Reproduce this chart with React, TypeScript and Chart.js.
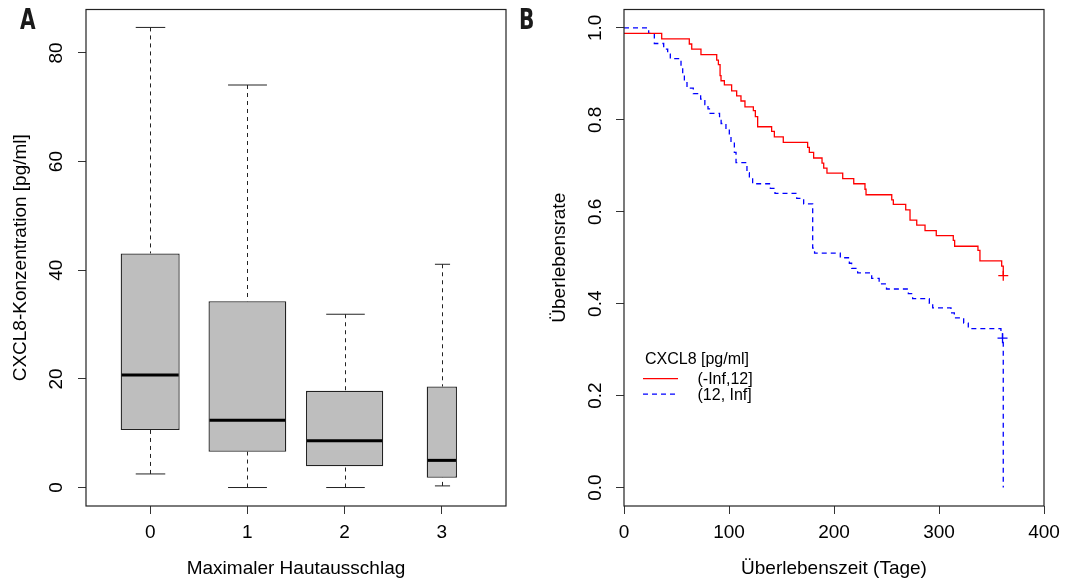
import React, { useEffect, useRef } from 'react';
import { Chart, registerables } from 'chart.js';

Chart.register(...registerables);

const FONT = "'Liberation Sans', Arial, 'DejaVu Sans', sans-serif";
const LETTER_FONT = "'Liberation Sans Narrow', 'DejaVu Sans Condensed', 'Liberation Sans', sans-serif";

// ---------- Panel A: CXCL8 by maximal skin rash ----------
const skinCategories = ['0', '1', '2', '3'];
const groupSizes = [38, 66, 65, 10];
const whiskerLow = [2.5, 0, 0, 0.3];
const quartile1 = [10.6, 6.6, 3.9, 1.8];
const medians = [20.7, 12.4, 8.6, 5.0];
const quartile3 = [43.1, 34.3, 17.8, 18.6];
const whiskerHigh = [84.7, 74.1, 31.9, 41.1];

// ---------- Panel B: Kaplan-Meier curves ----------
const groupLabels = ['(-Inf,12]', '(12, Inf]'];
const legendTitle = 'CXCL8 [pg/ml]';

const redTimes = [0, 35.9, 62.2, 64.5, 73.3, 88.3, 89.9, 91.5, 92.4, 95.6, 102.5, 107.3, 111.4, 115.2, 123.2, 125.1, 127.3, 140.6, 143.2, 151.7, 174.9, 176.5, 180.6, 188.6, 190.2, 193.3, 208.3, 218.8, 229.5, 230.5, 255.0, 256.5, 268.3, 272.4, 278.8, 286.7, 297.4, 313.6, 314.9, 337.1, 339.0, 359.7, 361.2];
const redSurv = [0.988, 0.976, 0.965, 0.954, 0.942, 0.930, 0.920, 0.896, 0.885, 0.876, 0.863, 0.852, 0.841, 0.828, 0.820, 0.807, 0.785, 0.775, 0.763, 0.751, 0.740, 0.729, 0.717, 0.706, 0.695, 0.684, 0.672, 0.661, 0.649, 0.637, 0.626, 0.616, 0.604, 0.582, 0.571, 0.559, 0.548, 0.538, 0.525, 0.516, 0.493, 0.482, 0.461];

const blueTimes = [0, 23.5, 28.9, 37.8, 41.6, 44.1, 54.3, 55.9, 57.5, 60.0, 66.0, 73.0, 77.0, 80.0, 82.0, 91.0, 92.5, 97.1, 100.3, 101.9, 105.1, 106.7, 117.1, 119.4, 122.5, 139.4, 143.8, 164.5, 171.1, 179.7, 181.5, 206.0, 214.6, 216.8, 222.5, 235.9, 243.0, 250.0, 270.8, 274.9, 290.8, 294.0, 311.4, 314.6, 323.5, 327.9, 359.0, 360.5, 361.2];
const blueSurv = [1.0, 0.988, 0.966, 0.954, 0.943, 0.933, 0.916, 0.899, 0.881, 0.869, 0.857, 0.845, 0.833, 0.824, 0.814, 0.803, 0.792, 0.780, 0.765, 0.751, 0.729, 0.707, 0.685, 0.673, 0.661, 0.651, 0.640, 0.629, 0.617, 0.521, 0.510, 0.500, 0.488, 0.477, 0.467, 0.455, 0.443, 0.432, 0.422, 0.411, 0.401, 0.391, 0.380, 0.369, 0.358, 0.346, 0.336, 0.325, 0.0];

const redCensorTimes = [361.2];
const redCensorSurv = [0.461];
const blueCensorTimes = [360.5];
const blueCensorSurv = [0.325];

// ---------- helpers ----------
const maxGroup = Math.max(...groupSizes);
const boxWidths = groupSizes.map((n) => 0.8 * Math.sqrt(n / maxGroup));

const stepPoints = (times: number[], surv: number[]) => {
  const pts = [{ x: times[0], y: surv[0] }];
  for (let i = 1; i < times.length; i++) {
    pts.push({ x: times[i], y: surv[i - 1] });
    pts.push({ x: times[i], y: surv[i] });
  }
  return pts;
};

const framePlugin = {
  id: 'rFrame',
  afterDraw(chart: any) {
    const { ctx, chartArea: a } = chart;
    ctx.save();
    ctx.strokeStyle = '#222';
    ctx.lineWidth = 1.2;
    ctx.strokeRect(a.left, a.top, a.right - a.left, a.bottom - a.top);
    ctx.restore();
  },
};

const boxPartsPlugin = {
  id: 'boxParts',
  beforeDatasetsDraw(chart: any) {
    const { ctx } = chart;
    const x = chart.scales.x;
    const y = chart.scales.y;
    ctx.save();
    ctx.strokeStyle = '#222';
    ctx.lineWidth = 1;
    skinCategories.forEach((_, i) => {
      const cx = Math.round(x.getPixelForValue(i)) + 0.5;
      const capHalf = (x.getPixelForValue(i + boxWidths[i] / 2) - x.getPixelForValue(i)) / 2;
      const yHi = y.getPixelForValue(whiskerHigh[i]);
      const yLo = y.getPixelForValue(whiskerLow[i]);
      ctx.setLineDash([4, 4]);
      ctx.beginPath();
      ctx.moveTo(cx, yHi);
      ctx.lineTo(cx, y.getPixelForValue(quartile3[i]));
      ctx.moveTo(cx, yLo);
      ctx.lineTo(cx, y.getPixelForValue(quartile1[i]));
      ctx.stroke();
      ctx.setLineDash([]);
      ctx.beginPath();
      ctx.moveTo(cx - capHalf, yHi);
      ctx.lineTo(cx + capHalf, yHi);
      ctx.moveTo(cx - capHalf, yLo);
      ctx.lineTo(cx + capHalf, yLo);
      ctx.stroke();
    });
    ctx.restore();
  },
  afterDatasetsDraw(chart: any) {
    const { ctx } = chart;
    const x = chart.scales.x;
    const y = chart.scales.y;
    ctx.save();
    ctx.strokeStyle = '#000';
    ctx.lineWidth = 3;
    ctx.lineCap = 'butt';
    skinCategories.forEach((_, i) => {
      const cx = x.getPixelForValue(i);
      const half = x.getPixelForValue(i + boxWidths[i] / 2) - cx;
      const ym = y.getPixelForValue(medians[i]);
      ctx.beginPath();
      ctx.moveTo(cx - half + 1, ym);
      ctx.lineTo(cx + half - 1, ym);
      ctx.stroke();
    });
    ctx.restore();
  },
};

const legendPlugin = {
  id: 'kmLegend',
  afterDraw(chart: any) {
    const { ctx, chartArea: a } = chart;
    const lineX0 = a.left + 19;
    const lineX1 = a.left + 54;
    const textX = a.left + 73.5;
    const titleY = 359.3;
    const rowY = [378.7, 394.2];
    const colors = ['#FF0000', '#0000FF'];
    ctx.save();
    ctx.font = `16px ${FONT}`;
    ctx.fillStyle = '#000';
    ctx.textBaseline = 'middle';
    ctx.textAlign = 'left';
    ctx.fillText(legendTitle, a.left + 21, titleY);
    groupLabels.forEach((lab, i) => {
      ctx.strokeStyle = colors[i];
      ctx.lineWidth = 1.3;
      ctx.setLineDash(i === 1 ? [5, 4] : []);
      ctx.beginPath();
      ctx.moveTo(lineX0, rowY[i]);
      ctx.lineTo(lineX1, rowY[i]);
      ctx.stroke();
      ctx.fillText(lab, textX, rowY[i] + 1.3);
    });
    ctx.restore();
  },
};

const fitY = (w: number) => (s: any) => {
  s.width = w;
  s.paddingTop = 0;
  s.paddingBottom = 0;
};
const fitX = (h: number) => (s: any) => {
  s.height = h;
  s.paddingLeft = 0;
  s.paddingRight = 0;
};

const axisCommon = (title: string, titlePad: any) => ({
  grid: {
    display: true,
    drawOnChartArea: false,
    drawTicks: true,
    tickLength: 8,
    color: '#333',
    lineWidth: 1,
    offset: false,
  },
  border: { display: false },
  title: {
    display: true,
    text: title,
    color: '#000',
    font: { family: FONT, size: 19 },
    padding: titlePad,
  },
});

const makeConfigA = (): any => ({
  type: 'bar',
  data: {
    datasets: skinCategories.map((_, i) => ({
      type: 'bar',
      data: [{ x: i, y: [quartile1[i], quartile3[i]] }],
      backgroundColor: '#BEBEBE',
      borderColor: '#222',
      borderWidth: 1.3,
      borderSkipped: false,
      grouped: false,
      categoryPercentage: 1,
      barPercentage: boxWidths[i],
    })),
  },
  options: {
    responsive: false,
    maintainAspectRatio: false,
    animation: false,
    devicePixelRatio: 1,
    events: [],
    layout: { padding: { top: 9.5, right: 33, left: 0, bottom: 0 } },
    plugins: { legend: { display: false }, tooltip: { enabled: false } },
    scales: {
      x: {
        type: 'linear',
        min: -0.66,
        max: 3.66,
        offset: false,
        afterFit: fitX(77),
        ticks: {
          stepSize: 1,
          includeBounds: false,
          autoSkip: false,
          maxRotation: 0,
          padding: 7,
          color: '#000',
          font: { family: FONT, size: 19 },
          callback: (v: any) => skinCategories[Math.round(v)] ?? '',
        },
        ...axisCommon('Maximaler Hautausschlag', { top: 0, bottom: 2.6 }),
      },
      y: {
        type: 'linear',
        min: -3.4,
        max: 88,
        afterFit: fitY(86),
        ticks: {
          stepSize: 20,
          includeBounds: false,
          autoSkip: false,
          minRotation: 90,
          maxRotation: 90,
          crossAlign: 'center',
          padding: 10.9,
          color: '#000',
          font: { family: FONT, size: 19 },
        },
        ...axisCommon('CXCL8-Konzentration [pg/ml]', { top: 9, bottom: 0 }),
      },
    },
  },
  plugins: [boxPartsPlugin, framePlugin],
});

const makeConfigB = (): any => ({
  type: 'line',
  data: {
    datasets: [
      {
        label: groupLabels[0],
        data: stepPoints(redTimes, redSurv),
        borderColor: '#FF0000',
        borderWidth: 1.3,
        pointRadius: 0,
        fill: false,
        tension: 0,
      },
      {
        label: groupLabels[1],
        data: stepPoints(blueTimes, blueSurv),
        borderColor: '#0000FF',
        borderWidth: 1.3,
        borderDash: [5, 4],
        pointRadius: 0,
        fill: false,
        tension: 0,
      },
      {
        type: 'scatter',
        data: redCensorTimes.map((t, i) => ({ x: t, y: redCensorSurv[i] })),
        pointStyle: 'cross',
        pointRadius: 5,
        borderColor: '#FF0000',
        pointBorderColor: '#FF0000',
        pointBorderWidth: 1.3,
        showLine: false,
      },
      {
        type: 'scatter',
        data: blueCensorTimes.map((t, i) => ({ x: t, y: blueCensorSurv[i] })),
        pointStyle: 'cross',
        pointRadius: 5,
        borderColor: '#0000FF',
        pointBorderColor: '#0000FF',
        pointBorderWidth: 1.3,
        showLine: false,
      },
    ],
  },
  options: {
    responsive: false,
    maintainAspectRatio: false,
    animation: false,
    devicePixelRatio: 1,
    events: [],
    layout: { padding: { top: 9.5, right: 34, left: 0, bottom: 0 } },
    plugins: { legend: { display: false }, tooltip: { enabled: false } },
    scales: {
      x: {
        type: 'linear',
        min: 0,
        max: 400,
        offset: false,
        afterFit: fitX(77),
        ticks: {
          stepSize: 100,
          autoSkip: false,
          maxRotation: 0,
          padding: 7,
          color: '#000',
          font: { family: FONT, size: 19 },
        },
        ...axisCommon('Überlebenszeit (Tage)', { top: 0, bottom: 2.6 }),
      },
      y: {
        type: 'linear',
        min: -0.04,
        max: 1.04,
        afterFit: fitY(85),
        ticks: {
          stepSize: 0.2,
          includeBounds: false,
          autoSkip: false,
          minRotation: 90,
          maxRotation: 90,
          crossAlign: 'center',
          padding: 7.4,
          color: '#000',
          font: { family: FONT, size: 19 },
          callback: (v: any) => Number(v).toFixed(1),
        },
        ...axisCommon('Überlebensrate', { top: 9, bottom: 0 }),
      },
    },
  },
  plugins: [framePlugin, legendPlugin],
});

const letterStyle = (left: number): React.CSSProperties => ({
  position: 'absolute',
  left,
  top: 6.3,
  fontFamily: LETTER_FONT,
  fontWeight: 'bold',
  fontSize: 28,
  lineHeight: '28px',
  color: '#1a1a1a',
  transform: 'scaleX(0.8)',
  transformOrigin: 'left top',
});

export default function App() {
  const refA = useRef<HTMLCanvasElement | null>(null);
  const refB = useRef<HTMLCanvasElement | null>(null);

  useEffect(() => {
    const a = new Chart(refA.current as HTMLCanvasElement, makeConfigA());
    const b = new Chart(refB.current as HTMLCanvasElement, makeConfigB());
    return () => {
      a.destroy();
      b.destroy();
    };
  }, []);

  return (
    <div
      style={{
        position: 'absolute',
        left: 0,
        top: 0,
        width: 1078,
        height: 583,
        background: '#fff',
        overflow: 'hidden',
      }}
    >
      <canvas
        ref={refA}
        width={539}
        height={583}
        style={{ position: 'absolute', left: 0, top: 0, width: 539, height: 583 }}
      />
      <canvas
        ref={refB}
        width={539}
        height={583}
        style={{ position: 'absolute', left: 539, top: 0, width: 539, height: 583 }}
      />
      <div style={letterStyle(20)}>A</div>
      <div style={letterStyle(519)}>B</div>
    </div>
  );
}
